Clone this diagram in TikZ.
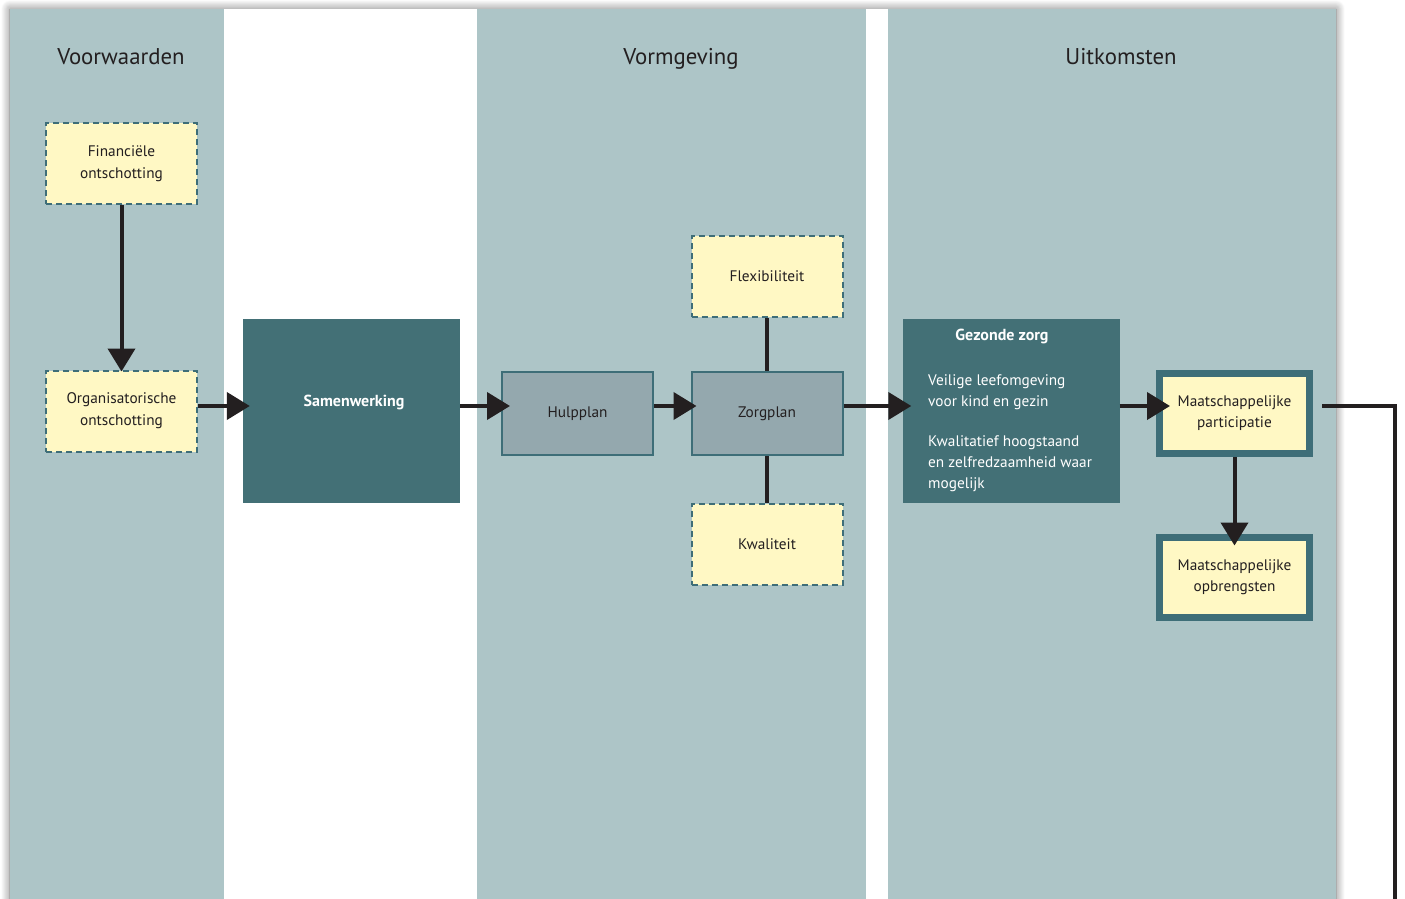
\documentclass[tikz,border=0pt]{standalone}
\usepackage{fontspec}
\setmainfont{PT Sans}
\usetikzlibrary{arrows.meta,shadows.blur}
\definecolor{colbg}{HTML}{ADC5C7}
\definecolor{darkteal}{HTML}{437076}
\definecolor{bordteal}{HTML}{3E6E78}
\definecolor{greyblue}{HTML}{94A8AE}
\definecolor{paleyellow}{HTML}{FFF8C4}
\definecolor{ink}{HTML}{231F20}
\tikzset{
  x=1pt, y=-1pt,
  column/.style={fill=colbg, draw=none},
  title/.style={font=\fontsize{22.8}{27}\selectfont, text=ink, anchor=base},
  dashbox/.style={draw=bordteal, line width=2pt, dash pattern=on 6pt off 4pt, fill=paleyellow,
    minimum width=151pt, minimum height=81pt, inner sep=0pt, align=center, text=ink,
    font=\fontsize{15.3}{22}\selectfont},
  planbox/.style={draw=bordteal, line width=2pt, fill=greyblue,
    minimum width=151pt, minimum height=83pt, inner sep=0pt, align=center, text=ink,
    font=\fontsize{15.3}{22}\selectfont},
  darkbox/.style={fill=darkteal, draw=none, minimum width=217pt, minimum height=184pt, inner sep=0pt},
  whitebold/.style={text=white, font=\bfseries\fontsize{16}{19}\selectfont},
  resultbox/.style={draw=bordteal, line width=7pt, fill=paleyellow,
    minimum width=150pt, minimum height=80pt, inner sep=0pt, align=center, text=ink,
    font=\fontsize{15.3}{21}\selectfont},
  conn/.style={draw=ink, line width=4pt},
  arr/.style={conn, -{Triangle[width=27pt,length=23pt]}, shorten >=-9pt},
}
\begin{document}
\begin{tikzpicture}
\useasboundingbox (0,0) rectangle (1405,899);
\clip (0,0) rectangle (1405,899);
% page with shadow
\fill[white, blur shadow={shadow xshift=0pt, shadow yshift=0pt, shadow blur radius=9pt, shadow blur steps=12, shadow opacity=55}]
  (10,9) rectangle (1336,930);
% columns
\fill[column] (10,9) rectangle (224,930);
\fill[column] (477,9) rectangle (866,930);
\fill[column] (888,9) rectangle (1336,930);
% titles
\node[title] (t1) at (121,64) {Voorwaarden};
\node[title] (t2) at (681,64) {Vormgeving};
\node[title] (t3) at (1121,64) {Uitkomsten};
% nodes
\node[dashbox] (fin) at (121.5,163.5) {Financiële\\ontschotting};
\node[dashbox] (org) at (121.5,411) {Organisatorische\\ontschotting};
\node[darkbox] (sam) at (351.5,411) {};
\node[whitebold] (samt) at (354,402) {Samenwerking};
\node[planbox] (hulp) at (577.5,413.5) {Hulpplan};
\node[planbox] (zorg) at (767,413.5) {Zorgplan};
\node[dashbox] (flex) at (767,276.5) {Flexibiliteit};
\node[dashbox] (kwal) at (767,544) {Kwaliteit};
\node[darkbox] (gz) at (1011,411) {};
\node[whitebold] (gzt) at (1002,336) {Gezonde zorg};
\node[text=white, anchor=north west, align=left, inner sep=0pt, font=\fontsize{15.3}{21.2}\selectfont] (gzb) at (928,374)
  {Veilige leefomgeving\\voor kind en gezin\\[19pt]Kwalitatief hoogstaand\\en zelfredzaamheid waar\\mogelijk};
\node[resultbox] (mp) at (1234.5,413.5) {Maatschappelijke\\participatie};
\node[resultbox] (mo) at (1234.5,577) {Maatschappelijke\\opbrengsten};
\coordinate (lvl) at (0,406);
\coordinate (dn) at (1395,930);
% connectors
\draw[arr, shorten >=-2pt] (fin.south) -- (org.north);
\draw[arr, shorten >=-7pt] (org.east |- lvl) -- (sam.west |- lvl);
\draw[arr] (sam.east |- lvl) -- (hulp.west |- lvl);
\draw[arr, shorten >=-6pt] (hulp.east |- lvl) -- (zorg.west |- lvl);
\draw[conn] (flex.south) -- (zorg.north);
\draw[conn] (zorg.south) -- (kwal.north);
\draw[arr] (zorg.east |- lvl) -- (gz.west |- lvl);
\draw[arr, shorten >=-14pt] (gz.east |- lvl) -- (mp.west |- lvl);
\draw[arr, shorten >=-12pt] (mp.south) -- (mo.north);
\draw[conn, shorten <=9pt] (mp.east |- lvl) -- (dn |- lvl) -- (dn);
\end{tikzpicture}
\end{document}
